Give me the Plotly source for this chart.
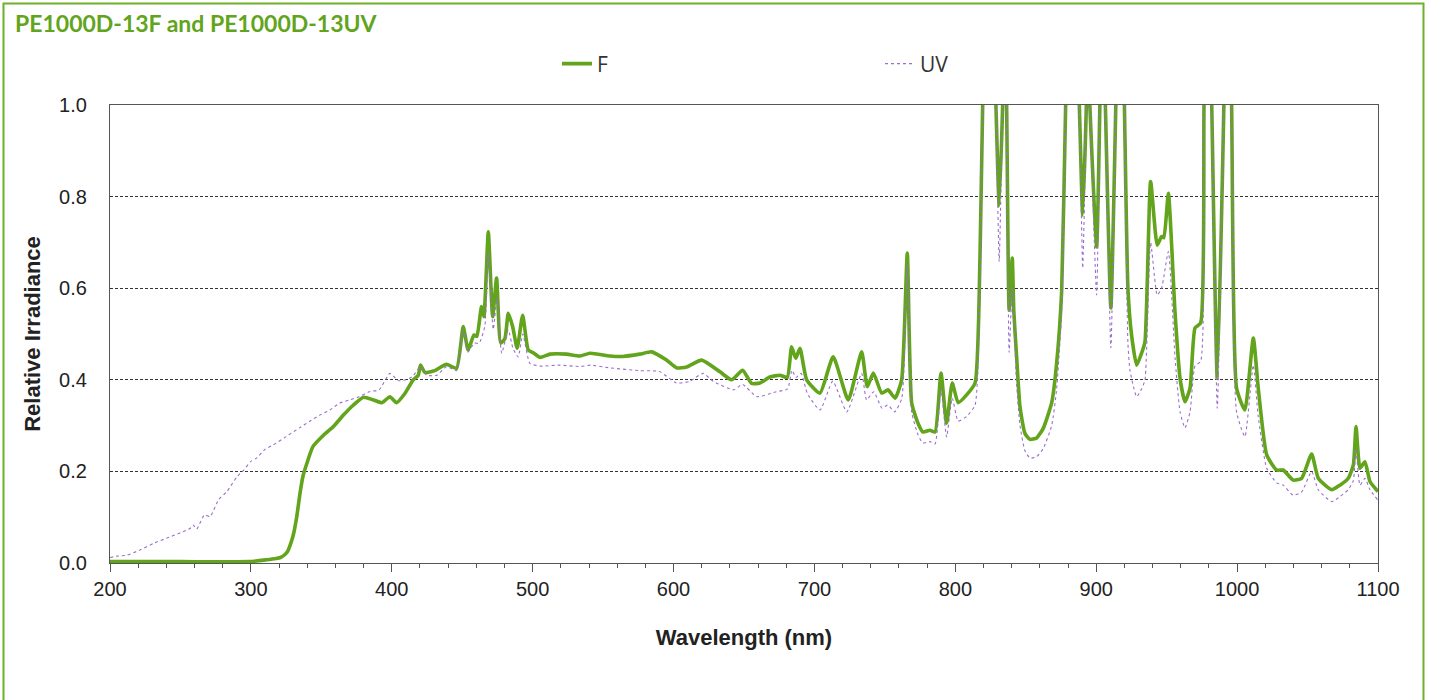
import plotly.graph_objects as go

# ---------------- data ----------------
wl_f = [200, 250, 299, 311, 318, 321, 324, 326, 328, 330, 332.5, 335, 337, 340, 344, 351.5, 358.6,
        365.7, 372.8, 379.9, 387, 393, 398.7, 403.4, 409.3, 415.2, 418.8, 420.4, 423.5, 430.5, 438.8,
        446, 450.7, 454.2, 458.3, 460.4, 463.7, 465.4, 468.5, 471.6, 474.4, 477.3, 480.3, 482.7, 485.8,
        489, 492.9, 496.9, 500.4, 505.2, 512.3, 524.1, 533.6, 540.7, 554.9, 564, 576, 584.5, 595,
        602.2, 609.3, 619.9, 632.7, 641.2, 649, 655.4, 661.3, 668.4, 675.5, 680.7, 683.8, 686.7,
        689.7, 694.5, 703.9, 713.3, 724, 733.5, 737.5, 741.8, 747.7, 752.2, 757.2, 761.9, 765.9,
        769, 773.5, 777, 782, 785.6, 789.8, 793.8, 797.8, 802, 808, 814, 817.5, 819.4, 824, 828.8,
        831.1, 833.6, 835, 836.4, 838.2, 840.4, 841.5, 843.5, 845.9, 849.4, 853, 857.7, 862.4, 868.4,
        871.9, 875.5, 878.3, 883, 888, 890.4, 893, 894, 895.5, 900.3, 902.6, 904.5, 906.5, 910.4,
        913.9, 917, 920, 922.5, 925, 928.7, 932.2, 934.6, 938.6, 943.3, 946.4, 948, 951.2, 955.9,
        959.5, 963, 966.6, 970.1, 974.1, 976.5, 979, 982, 985.9, 990.6, 993, 996.1, 999.6, 1005.5,
        1011.5, 1015, 1021, 1028, 1032.7, 1039.8, 1045.8, 1052.9, 1057.6, 1067.1, 1073, 1078.9,
        1082.5, 1084.4, 1087.2, 1090.7, 1094.3, 1100]
f_vals = [0.003, 0.003, 0.003, 0.007, 0.01, 0.012, 0.018, 0.025, 0.04, 0.06, 0.1, 0.155, 0.19, 0.22,
          0.254, 0.279, 0.298, 0.323, 0.345, 0.362, 0.356, 0.35, 0.363, 0.35, 0.37, 0.40, 0.41, 0.432,
          0.416, 0.42, 0.434, 0.425, 0.516, 0.465, 0.498, 0.495, 0.56, 0.538, 0.723, 0.538, 0.622,
          0.48, 0.49, 0.545, 0.516, 0.469, 0.541, 0.465, 0.459, 0.449, 0.456, 0.456, 0.452, 0.458,
          0.452, 0.451, 0.456, 0.461, 0.443, 0.426, 0.428, 0.443, 0.418, 0.40, 0.421, 0.392, 0.393,
          0.406, 0.41, 0.405, 0.472, 0.447, 0.469, 0.40, 0.371, 0.45, 0.356, 0.461, 0.385, 0.415,
          0.371, 0.378, 0.36, 0.40, 0.677, 0.35, 0.305, 0.286, 0.29, 0.286, 0.415, 0.305, 0.393, 0.35,
          0.367, 0.393, 0.668, 1.0, 1.5, 1.0, 0.78, 1.0, 1.2, 1.0, 0.552, 0.666, 0.55, 0.45, 0.341,
          0.283, 0.27, 0.273, 0.294, 0.35, 0.436, 0.596, 1.0, 1.5, 1.0, 0.76, 1.0, 1.2, 1.0, 0.69, 1.0,
          1.3, 1.0, 0.557, 1.0, 1.5, 1.0, 0.6, 0.5, 0.432, 0.458, 0.483, 0.833, 0.694, 0.713, 0.71,
          0.807, 0.549, 0.403, 0.352, 0.382, 0.513, 0.524, 1.0, 1.5, 1.0, 0.403, 1.0, 1.5, 1.0, 0.382,
          0.334, 0.491, 0.382, 0.236, 0.203, 0.203, 0.181, 0.185, 0.238, 0.185, 0.16, 0.17, 0.185,
          0.214, 0.298, 0.207, 0.221, 0.178, 0.156]

wl_uv = [200, 205, 212, 221, 231, 240, 250, 257, 259, 261.5, 267, 271, 277, 283, 290, 295, 300, 304,
         310, 316, 325, 335, 342, 349, 356, 363, 370, 377, 384, 391, 398.7, 404.6, 410, 415, 420.4,
         424.7, 432, 439, 446, 450.7, 454, 458.5, 462, 466, 468.5, 472, 474.8, 478, 482.7, 486, 489.7,
         493, 498, 505, 519, 533.6, 541, 555, 576, 590, 602, 611, 621, 628, 642.6, 649, 659, 673, 681,
         684, 687, 690.5, 695, 704, 713, 723, 733.5, 737, 742, 748, 752, 757, 762, 766, 769, 773.5,
         777, 782, 785.6, 789.8, 793.8, 797.8, 802, 808, 814, 817.5, 819.4, 824, 828.8, 831.1, 833.6,
         835, 836.4, 838.2, 840.4, 843.5, 845.9, 849.4, 853, 857.7, 862.4, 868.4, 871.9, 875.5, 878.3,
         883, 888, 890.4, 893, 894, 895.5, 900.3, 902.6, 904.5, 906.5, 910.4, 913.9, 917, 920, 922.5,
         924, 928.7, 932.2, 934.6, 938.6, 943.3, 946.4, 951.2, 955.9, 959.5, 963, 966.6, 970.1, 974.1,
         976.5, 979, 982, 985.9, 990.6, 993, 996.1, 999.6, 1005.5, 1011.5, 1015, 1021, 1028, 1032.7,
         1039.8, 1045.8, 1052.9, 1057.6, 1067.1, 1073, 1078.9, 1082.5, 1084.4, 1087.2, 1090.7, 1094.3,
         1100]
uv_vals = [0.012, 0.015, 0.017, 0.028, 0.043, 0.054, 0.066, 0.076, 0.083, 0.074, 0.105, 0.101, 0.138,
           0.156, 0.188, 0.203, 0.222, 0.229, 0.248, 0.258, 0.276, 0.296, 0.31, 0.323, 0.334, 0.349,
           0.356, 0.363, 0.374, 0.378, 0.414, 0.398, 0.40, 0.408, 0.429, 0.41, 0.41, 0.429, 0.42, 0.509,
           0.46, 0.48, 0.48, 0.516, 0.677, 0.51, 0.58, 0.458, 0.509, 0.469, 0.45, 0.50, 0.436, 0.43,
           0.432, 0.429, 0.432, 0.426, 0.42, 0.418, 0.393, 0.396, 0.414, 0.397, 0.378, 0.39, 0.363,
           0.374, 0.38, 0.421, 0.405, 0.414, 0.37, 0.334, 0.397, 0.33, 0.414, 0.356, 0.374, 0.338,
           0.345, 0.33, 0.36, 0.65, 0.33, 0.28, 0.262, 0.265, 0.26, 0.38, 0.275, 0.36, 0.31, 0.32, 0.345,
           0.6, 1.0, 1.5, 1.0, 0.658, 1.0, 1.2, 1.0, 0.46, 0.6, 0.39, 0.3, 0.245, 0.229, 0.232, 0.25,
           0.3, 0.38, 0.55, 1.0, 1.5, 1.0, 0.644, 1.0, 1.2, 1.0, 0.585, 1.0, 1.3, 1.0, 0.47, 1.0, 1.5,
           1.0, 0.48, 0.42, 0.363, 0.38, 0.4, 0.70, 0.585, 0.6, 0.68, 0.45, 0.33, 0.295, 0.33, 0.43,
           0.44, 1.0, 1.5, 1.0, 0.338, 1.0, 1.5, 1.0, 0.33, 0.276, 0.432, 0.32, 0.207, 0.175, 0.17,
           0.148, 0.155, 0.2, 0.16, 0.134, 0.145, 0.16, 0.18, 0.25, 0.17, 0.185, 0.16, 0.137]

x_ticks = [200, 300, 400, 500, 600, 700, 800, 900, 1000, 1100]
y_ticks = [0.0, 0.2, 0.4, 0.6, 0.8, 1.0]
title_text = "PE1000D-13F and PE1000D-13UV"

GREEN = "#62A41C"
PURPLE = "#9B6FCB"
AXFONT = "Liberation Sans, Arial, sans-serif"

# pixel geometry of plot area
L, R, T, B = 110, 1378, 105, 563
W, H = 1430, 700


def px(xp):
    return (xp - L) / (R - L)


def py(yp):
    return (B - yp) / (B - T)


fig = go.Figure()
fig.add_trace(go.Scatter(x=wl_f, y=f_vals, name="F", mode="lines",
                         line=dict(color=GREEN, width=3.6, shape="spline", smoothing=0.5)))
fig.add_trace(go.Scatter(x=wl_uv, y=uv_vals, name="UV", mode="lines",
                         line=dict(color=PURPLE, width=1.1, dash="dot", shape="spline", smoothing=0.5)))

fig.update_layout(
    width=W, height=H,
    margin=dict(l=L, r=W - R, t=T, b=H - B, autoexpand=False),
    paper_bgcolor="white", plot_bgcolor="white",
    showlegend=True,
    legend=dict(orientation="h", x=px(557), y=py(64), xanchor="left", yanchor="middle",
                font=dict(family="Open Sans, sans-serif", size=21, color="#333"),
                entrywidth=278, entrywidthmode="pixels", bgcolor="rgba(0,0,0,0)"),
    xaxis=dict(range=[200, 1100], tickvals=x_ticks, ticktext=[str(v) for v in x_ticks],
               showgrid=False, zeroline=False, showline=True, linecolor="#555", linewidth=1.2,
               mirror=True, ticks="outside", ticklen=8, tickcolor="#555", tickwidth=1.2,
               minor=dict(dtick=20, ticks="outside", ticklen=4, tickcolor="#555", showgrid=False),
               tickfont=dict(family=AXFONT, size=20, color="#222"),
               title=dict(text="<b>Wavelength (nm)</b>", standoff=30,
                          font=dict(family=AXFONT, size=22, color="#222"))),
    yaxis=dict(range=[0, 1.0], tickvals=y_ticks, ticktext=[f"{v:.1f}" for v in y_ticks],
               showgrid=True, gridcolor="#333", gridwidth=1, griddash="3px,2px",
               zeroline=False, showline=True, linecolor="#555", linewidth=1.2, mirror=True,
               ticks="", ticklabelstandoff=18,
               tickfont=dict(family=AXFONT, size=20, color="#222"),
               title=dict(text="<b>Relative Irradiance</b>", standoff=12,
                          font=dict(family=AXFONT, size=22, color="#222"))),
    annotations=[dict(text="<b>" + title_text + "</b>", xref="paper", yref="paper",
                      x=px(13), y=py(23), xanchor="left", yanchor="middle", showarrow=False,
                      font=dict(family="Lato, sans-serif", size=23, color=GREEN))],
    shapes=[dict(type="rect", xref="paper", yref="paper", x0=px(3.5), x1=px(1423.5),
                 y0=py(3.5), y1=py(706), line=dict(color="#6EB02A", width=2), layer="below")],
)

fig.write_html("out.html", config={"displayModeBar": False},
               post_script="document.body.style.margin='0px';")
